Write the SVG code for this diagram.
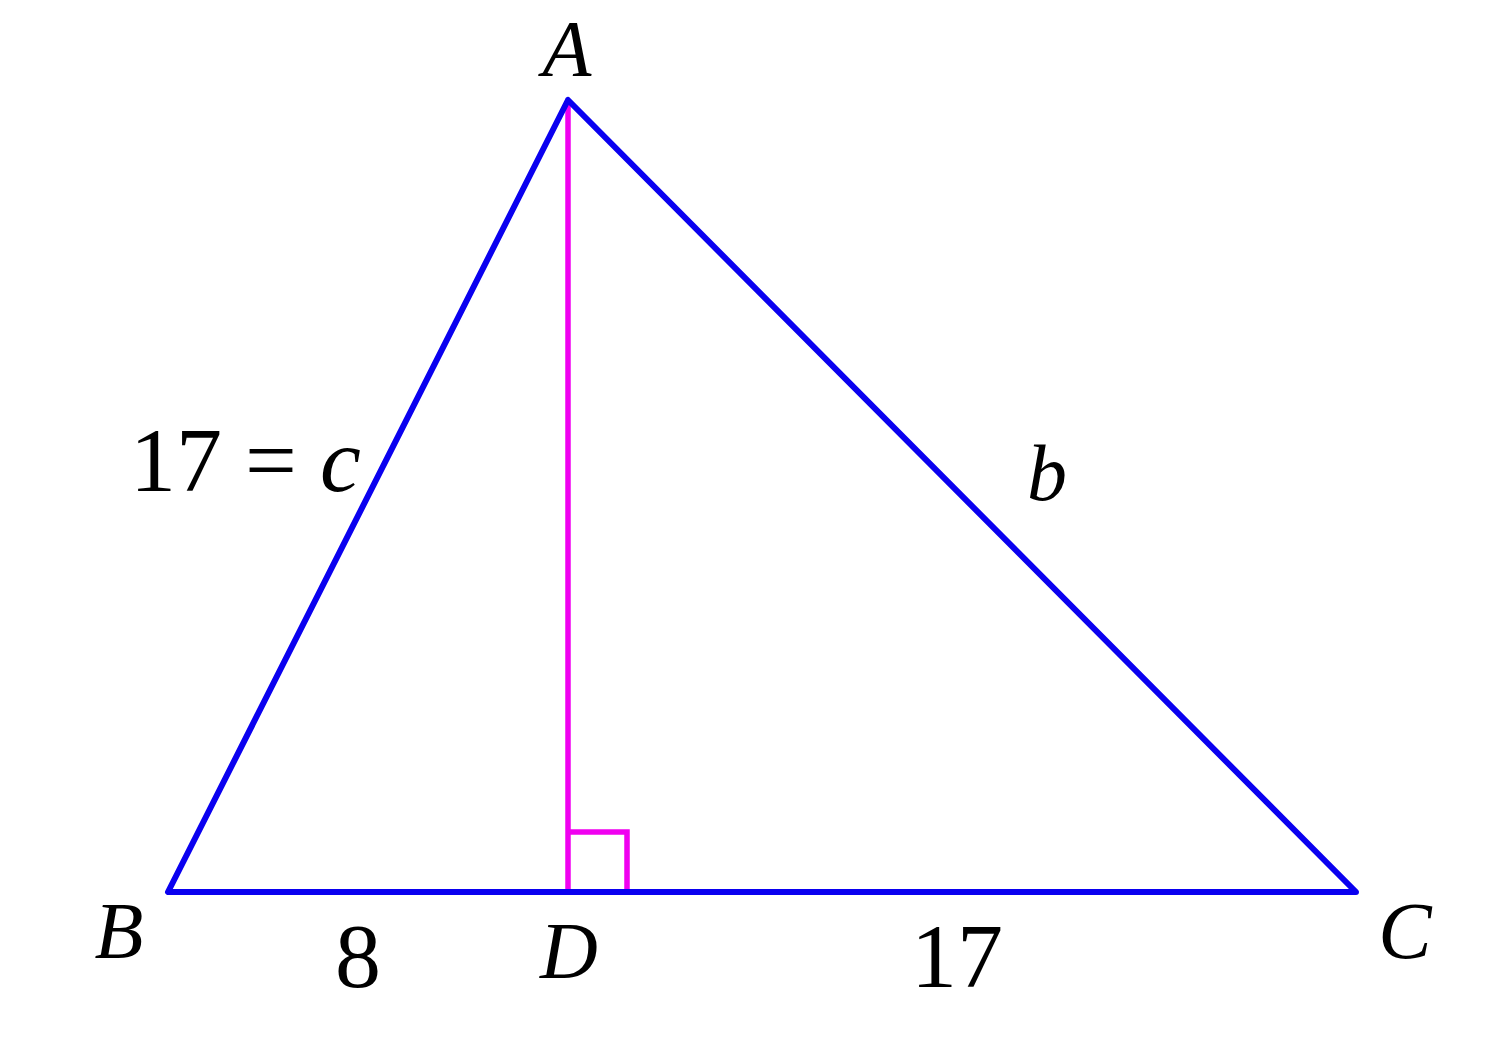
<svg xmlns="http://www.w3.org/2000/svg" width="1504" height="1046" viewBox="0 0 1504 1046">
<style>
.tri{fill:none;stroke:#0a00f0;stroke-width:6;stroke-linejoin:round;stroke-linecap:round}
.alt{fill:none;stroke:#f000f0;stroke-width:5.5}
text{font-family:'Liberation Serif','Times New Roman','DejaVu Serif',serif;fill:#000}
.lbl{font-style:italic;font-size:80px}
.num{font-size:92px}
</style>
<rect width="1504" height="1046" fill="#fff"/>
<g id="connectors">
<line class="alt" x1="568" y1="102" x2="568" y2="892"/>
<polyline class="alt" points="568,832 627,832 627,892"/>
<polygon class="tri" points="568,100 168,892 1356,892"/>
</g>
<g id="node-A"><text class="lbl" x="567" y="76" text-anchor="middle">A</text></g>
<g id="node-B"><text class="lbl" x="119" y="958" text-anchor="middle">B</text></g>
<g id="node-C"><text class="lbl" x="1405" y="958" text-anchor="middle">C</text></g>
<g id="node-D"><text class="lbl" x="569" y="978" text-anchor="middle">D</text></g>
<g id="label-c"><text class="num" x="130" y="491">17 = <tspan font-style="italic">c</tspan></text></g>
<g id="label-b"><text class="lbl" x="1047" y="500" text-anchor="middle">b</text></g>
<g id="label-8"><text class="num" x="358" y="987" text-anchor="middle">8</text></g>
<g id="label-17"><text class="num" x="957" y="987" text-anchor="middle">17</text></g>
</svg>
